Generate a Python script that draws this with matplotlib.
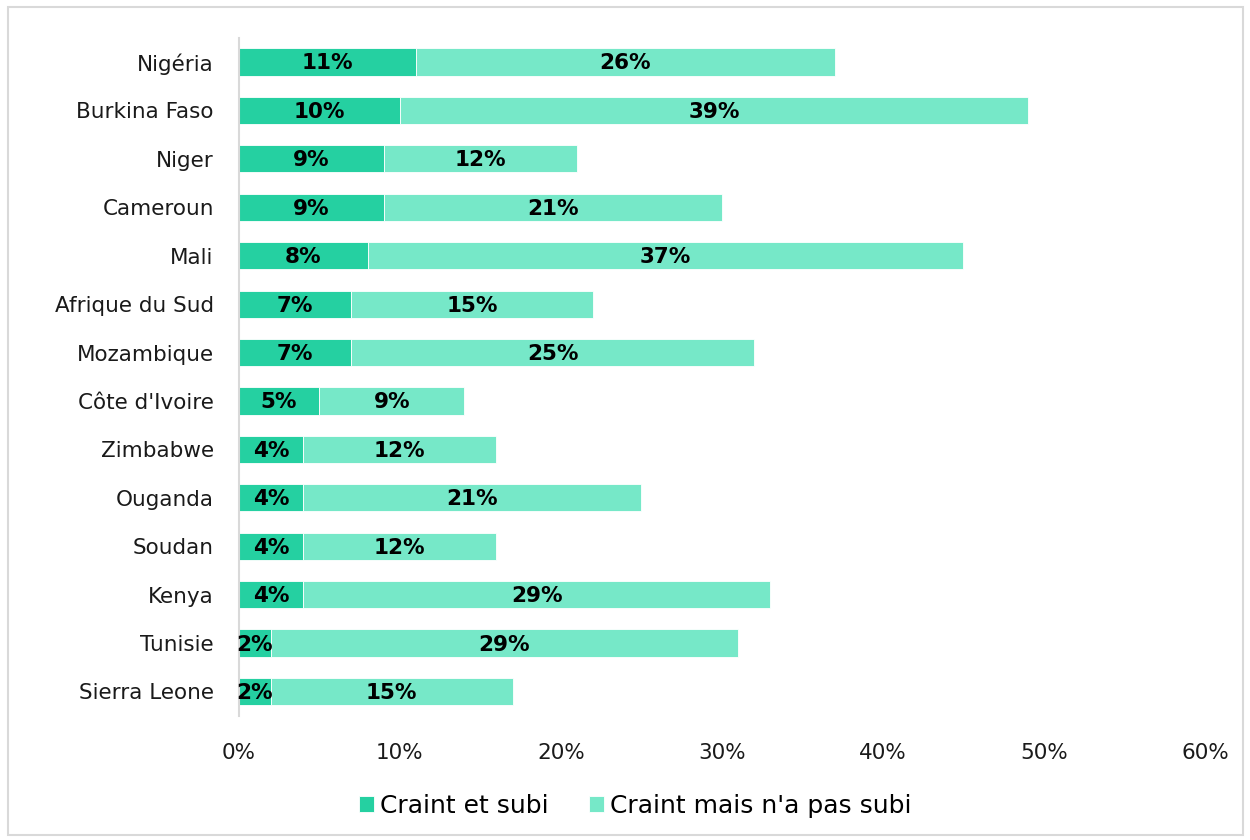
import matplotlib
matplotlib.use('Agg')
import matplotlib.pyplot as plt
from matplotlib.patches import Rectangle
from matplotlib.ticker import FuncFormatter

plt.rcParams['font.family'] = ['DejaVu Sans']

pays = ['Nigéria', 'Burkina Faso', 'Niger', 'Cameroun', 'Mali', 'Afrique du Sud',
        'Mozambique', "Côte d'Ivoire", 'Zimbabwe', 'Ouganda', 'Soudan', 'Kenya',
        'Tunisie', 'Sierra Leone']
craint_subi = [11, 10, 9, 9, 8, 7, 7, 5, 4, 4, 4, 4, 2, 2]
craint_pas_subi = [26, 39, 12, 21, 37, 15, 25, 9, 12, 21, 12, 29, 29, 15]
legende = ['Craint et subi', "Craint mais n'a pas subi"]

c_fonce = '#25D0A1'
c_clair = '#76E8C8'

fig = plt.figure(figsize=(12.5, 8.4), dpi=100)
ax = fig.add_axes([0.191, 0.148, 0.773, 0.807])

y = list(range(len(pays)))
ax.barh(y, craint_subi, height=0.56, color=c_fonce, edgecolor='white', linewidth=0.6,
        label=legende[0])
ax.barh(y, craint_pas_subi, left=craint_subi, height=0.56, color=c_clair,
        edgecolor='white', linewidth=0.6, label=legende[1])

for i in y:
    ax.text(craint_subi[i] / 2, i + 0.03, f'{craint_subi[i]}%', ha='center', va='center',
            fontsize=15.5, fontweight='bold', color='black')
    ax.text(craint_subi[i] + craint_pas_subi[i] / 2, i + 0.03, f'{craint_pas_subi[i]}%',
            ha='center', va='center', fontsize=15.5, fontweight='bold', color='black')

ax.set_yticks(y)
ax.set_yticklabels(pays, fontsize=15.5, color='#1a1a1a')
ax.set_ylim(len(pays) - 0.5, -0.5)
ax.set_xlim(0, 60)
ax.set_xticks(range(0, 61, 10))
ax.xaxis.set_major_formatter(FuncFormatter(lambda v, p: f'{v:.0f}%'))
ax.tick_params(axis='x', labelsize=15.5, length=0, pad=20, colors='#1a1a1a')
ax.tick_params(axis='y', length=0, pad=18)

for s in ['top', 'right', 'bottom']:
    ax.spines[s].set_visible(False)
ax.spines['left'].set_color('#d9d9d9')
ax.spines['left'].set_linewidth(1.5)

h, l = ax.get_legend_handles_labels()
fig.legend(h, l, loc='center', bbox_to_anchor=(0.508, 0.041), ncol=2, frameon=False,
           fontsize=18, handlelength=0.6, handleheight=0.6, handletextpad=0.25,
           columnspacing=1.6)

fig.patches.append(Rectangle((0.006, 0.006), 0.988, 0.986, transform=fig.transFigure,
                             fill=False, edgecolor='#d9d9d9', linewidth=1.5))

fig.savefig('out.png', dpi=100)
